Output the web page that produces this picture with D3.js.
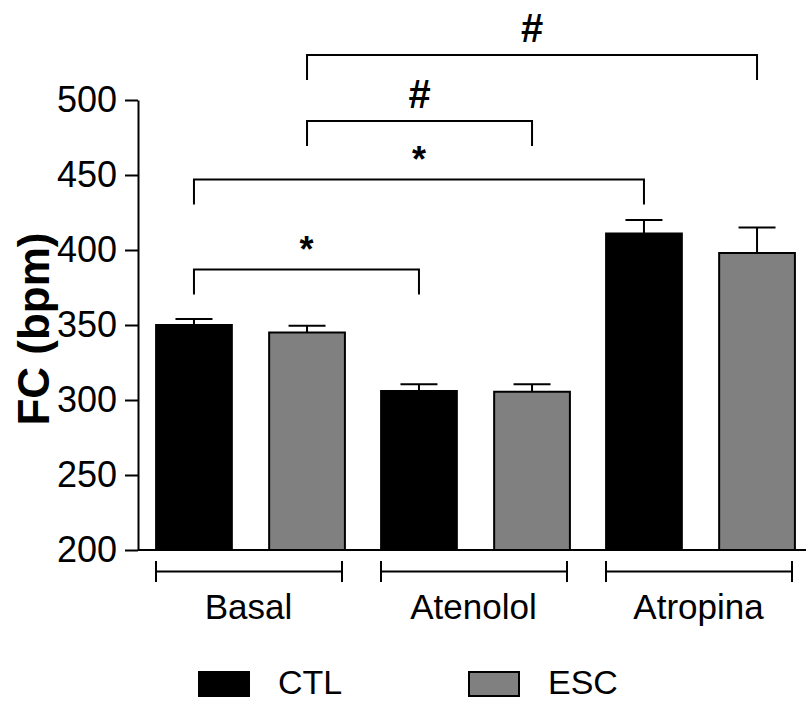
<!DOCTYPE html>
<html>
<head>
<meta charset="utf-8">
<script src="https://cdn.jsdelivr.net/npm/d3@7"></script>
<style>
    body { margin: 0; background: #fff; }
    text { font-family: "Liberation Sans", Arial, sans-serif; fill: #000; }
</style>
</head>
<body>
<div id="chart" style="width:806px;height:702px"></div>
<script>

// data (mean + SEM, bpm)
const groups = ["Basal", "Atenolol", "Atropina"];
const series = ["CTL", "ESC"];
const seriesColors = ["#000000", "#808080"];
const ctlValues = [350, 306, 411];
const ctlErrors = [4, 4.5, 9];
const escValues = [345, 305.5, 398];
const escErrors = [4.5, 5, 17];
const yTicks = [200, 250, 300, 350, 400, 450, 500];

// significance brackets: bars compared, height in bpm, mark
const compFrom = [["Basal", "ESC"], ["Basal", "ESC"], ["Basal", "CTL"], ["Basal", "CTL"]];
const compTo = [["Atropina", "ESC"], ["Atenolol", "ESC"], ["Atropina", "CTL"], ["Atenolol", "CTL"]];
const compLevel = [530, 486, 447, 387];
const compLabel = ["#", "#", "*", "*"];


class BarVis {
    constructor(parentElement) {
        this.parentElement = parentElement;
        this.initVis();
    }

    initVis() {
        let vis = this;

        vis.width = 806;
        vis.height = 702;
        vis.left = 138;

        vis.svg = d3.select(vis.parentElement)
            .append("svg")
            .attr("width", vis.width)
            .attr("height", vis.height);

        vis.y = d3.scaleLinear()
            .domain([200, 500])
            .range([550, 100]);

        vis.x0 = d3.scaleBand()
            .domain(groups)
            .range([vis.left, vis.left + 675]);

        vis.x1 = d3.scaleBand()
            .domain(series)
            .range([0, vis.x0.bandwidth()])
            .paddingInner(0.33)
            .paddingOuter(0.16);

        vis.color = d3.scaleOrdinal()
            .domain(series)
            .range(seriesColors);

        vis.wrangleData();
    }

    wrangleData() {
        let vis = this;
        vis.displayData = [];
        groups.forEach((g, i) => {
            vis.displayData.push({group: g, key: "CTL", value: ctlValues[i], err: ctlErrors[i]});
            vis.displayData.push({group: g, key: "ESC", value: escValues[i], err: escErrors[i]});
        });

        vis.comparisons = compFrom.map((d, i) => ({
            from: d, to: compTo[i], level: compLevel[i], label: compLabel[i]
        }));

        vis.updateVis();
    }

    barCenter(g, k) {
        let vis = this;
        return vis.x0(g) + vis.x1(k) + vis.x1.bandwidth() / 2;
    }

    updateVis() {
        let vis = this;

        // y axis
        let yAxis = d3.axisLeft(vis.y)
            .tickValues(yTicks)
            .tickSize(13)
            .tickSizeOuter(0)
            .tickPadding(8);

        let yg = vis.svg.append("g")
            .attr("transform", `translate(${vis.left},0)`)
            .call(yAxis);
        yg.select(".domain").attr("stroke-width", 2).attr("stroke", "#000");
        yg.selectAll(".tick line").attr("stroke-width", 2).attr("stroke", "#000");
        yg.selectAll(".tick text")
            .style("font-family", "'Liberation Sans', Arial, sans-serif")
            .style("font-size", "36px")
            .attr("fill", "#000");

        vis.svg.append("text")
            .attr("transform", "translate(49,329) rotate(-90)")
            .attr("text-anchor", "middle")
            .style("font-size", "44px")
            .style("font-weight", "bold")
            .text("FC (bpm)");

        // bars
        vis.svg.selectAll(".bar")
            .data(vis.displayData)
            .enter()
            .append("rect")
            .attr("class", "bar")
            .attr("x", d => vis.x0(d.group) + vis.x1(d.key))
            .attr("y", d => vis.y(d.value))
            .attr("width", vis.x1.bandwidth())
            .attr("height", d => vis.y(200) - vis.y(d.value))
            .attr("fill", d => vis.color(d.key))
            .attr("stroke", "#000")
            .attr("stroke-width", 2);

        // error bars (upper only)
        let err = vis.svg.selectAll(".errbar")
            .data(vis.displayData)
            .enter()
            .append("g")
            .attr("class", "errbar")
            .attr("stroke", "#000")
            .attr("stroke-width", 2);

        err.append("line")
            .attr("x1", d => vis.barCenter(d.group, d.key))
            .attr("x2", d => vis.barCenter(d.group, d.key))
            .attr("y1", d => vis.y(d.value))
            .attr("y2", d => vis.y(d.value + d.err));

        err.append("line")
            .attr("x1", d => vis.barCenter(d.group, d.key) - 18.5)
            .attr("x2", d => vis.barCenter(d.group, d.key) + 18.5)
            .attr("y1", d => vis.y(d.value + d.err))
            .attr("y2", d => vis.y(d.value + d.err));

        // x baseline
        vis.svg.append("line")
            .attr("x1", vis.left)
            .attr("x2", vis.width)
            .attr("y1", vis.y(200))
            .attr("y2", vis.y(200))
            .attr("stroke", "#000")
            .attr("stroke-width", 2);

        // group brackets under the axis
        let gb = vis.svg.selectAll(".groupbracket")
            .data(groups)
            .enter()
            .append("g")
            .attr("class", "groupbracket")
            .attr("transform", d => `translate(${vis.x0(d)},0)`);

        let bx1 = 18, bx2 = 204;
        gb.append("path")
            .attr("d", `M${bx1},561V582M${bx1},571.5H${bx2}M${bx2},561V582`)
            .attr("fill", "none")
            .attr("stroke", "#000")
            .attr("stroke-width", 2);

        gb.append("text")
            .attr("x", vis.x0.bandwidth() / 2 - 2)
            .attr("y", 619)
            .attr("text-anchor", "middle")
            .style("font-size", "35px")
            .text(d => d);

        // significance brackets
        let cg = vis.svg.selectAll(".comp")
            .data(vis.comparisons)
            .enter()
            .append("g")
            .attr("class", "comp");

        cg.append("path")
            .attr("d", d => {
                let xa = vis.barCenter(d.from[0], d.from[1]);
                let xb = vis.barCenter(d.to[0], d.to[1]);
                let yy = vis.y(d.level);
                return `M${xa},${yy + 25}V${yy}H${xb}V${yy + 25}`;
            })
            .attr("fill", "none")
            .attr("stroke", "#000")
            .attr("stroke-width", 2);

        cg.append("text")
            .attr("x", d => (vis.barCenter(d.from[0], d.from[1]) + vis.barCenter(d.to[0], d.to[1])) / 2)
            .attr("y", d => vis.y(d.level) - (d.label === "#" ? 13 : 8))
            .attr("text-anchor", "middle")
            .style("font-size", d => d.label === "#" ? "40px" : "36px")
            .style("font-weight", "bold")
            .text(d => d.label);

        vis.drawLegend();
    }

    drawLegend() {
        let vis = this;
        let legendX = [199, 469];

        let lg = vis.svg.selectAll(".legenditem")
            .data(series)
            .enter()
            .append("g")
            .attr("class", "legenditem")
            .attr("transform", (d, i) => `translate(${legendX[i]},672)`);

        lg.append("rect")
            .attr("width", 50)
            .attr("height", 24)
            .attr("fill", d => vis.color(d))
            .attr("stroke", "#000")
            .attr("stroke-width", 2);

        lg.append("text")
            .attr("x", 79)
            .attr("y", 22)
            .style("font-size", "34px")
            .text(d => d);
    }
}

new BarVis(document.getElementById("chart"));

</script>
</body>
</html>
